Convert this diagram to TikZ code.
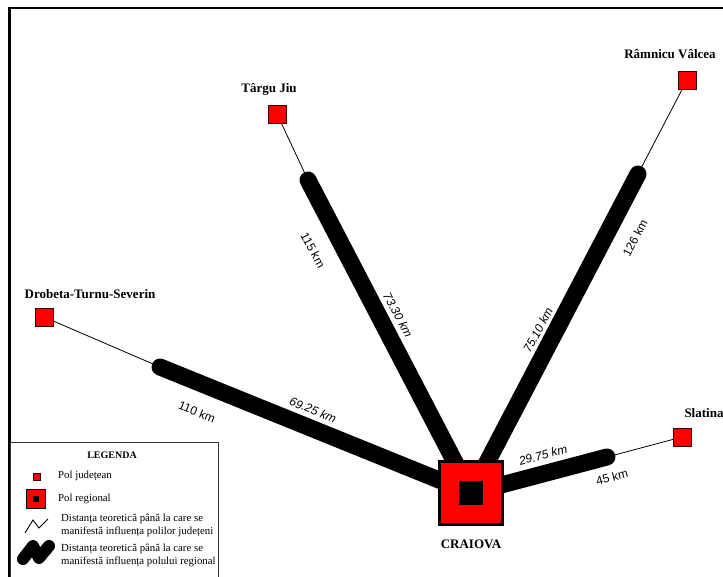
\documentclass[tikz,border=0pt]{standalone}
\usepackage{fontspec}
\setmainfont{Liberation Serif}
\setsansfont{Liberation Sans}
\usetikzlibrary{backgrounds}
\tikzset{
  jud/.style={draw=black!80!red, fill=red, minimum size=18pt, inner sep=0pt, line width=0.8pt},
  cityl/.style={font=\fontsize{13}{15}\selectfont\bfseries, inner sep=0pt},
  dist/.style={font=\sffamily\fontsize{12}{14}\selectfont, inner sep=0pt},
  disti/.style={font=\sffamily\itshape\fontsize{12}{14}\selectfont, inner sep=0pt},
  regline/.style={line width=17pt, line cap=round},
  judline/.style={line width=0.8pt},
  legt/.style={font=\fontsize{10.8}{13}\selectfont, inner sep=0pt, anchor=west, align=left},
}
\begin{document}
\begin{tikzpicture}[x=1pt,y=-1pt]
\useasboundingbox (0,0) rectangle (723,577);
% cities
\node[jud] (drob) at (44,317) {};
\node[cityl] (drobl) at (90,294) {Drobeta-Turnu-Severin};
\node[jud] (tj) at (277,114) {};
\node[cityl] (tjl) at (269,89) {Târgu Jiu};
\node[jud] (rv) at (687,80) {};
\node[cityl] (rvl) at (670,54) {Râmnicu Vâlcea};
\node[jud] (sl) at (682,437) {};
\node[cityl] (sll) at (704,413) {Slatina};
\node[draw, line width=3pt, fill=red, minimum size=63pt, inner sep=0pt] (crv) at (471,493) {};
\node[fill=black, minimum size=24pt, inner sep=0pt] (crvin) at (crv.center) {};
\node[cityl] (crvl) at (471,544) {CRAIOVA};
% connector end points
\coordinate (drobk) at (160,367);
\coordinate (tjk) at (308,180);
\coordinate (rvk) at (638,174);
\coordinate (slk) at (607,457);
\begin{pgfonlayer}{background}
  \fill[white] (0,0) rectangle (723,577);
  \draw[regline] (crv.center) -- (drobk);
  \draw[regline] (crv.center) -- (tjk);
  \draw[regline] (crv.center) -- (rvk);
  \draw[regline] (crv.center) -- (slk);
  \draw[judline] (drob.center) -- (drobk);
  \draw[judline] (tj.center) -- (tjk);
  \draw[judline] (rv.center) -- (rvk);
  \draw[judline] (sl.center) -- (slk);
\end{pgfonlayer}
% frame
\draw[line width=2.5pt] (9.5,577) -- (9.5,8) -- (723,8);
% distance labels
\node[dist, rotate=-22] (d110) at (197,412) {110 km};
\node[disti, rotate=-22] (d6925) at (313,410) {69.25 km};
\node[dist, rotate=-62] (d115) at (313,250) {115 km};
\node[disti, rotate=-62] (d7330) at (398,315) {73.30 km};
\node[dist, rotate=62] (d126) at (635,238) {126 km};
\node[disti, rotate=62] (d7510) at (538,330) {75.10 km};
\node[disti, rotate=15] (d2975) at (543,455) {29.75 km};
\node[dist, rotate=15] (d45) at (612,477) {45 km};
% legend
\draw[line width=0.8pt, black!80] (10,577) -- (10,442) -- (218,442) -- (218,577);
\node[font=\fontsize{10}{12}\selectfont\bfseries, inner sep=0pt] (legh) at (112,455) {LEGENDA};
\node[draw=black!80!red, fill=red, minimum size=7pt, inner sep=0pt, line width=0.5pt] (lj) at (37,477) {};
\node[legt] (ljt) at (58,476) {Pol județean};
\node[draw, fill=red, minimum size=19pt, inner sep=0pt, line width=1.5pt] (lr) at (36,499) {};
\node[fill=black, minimum size=6pt, inner sep=0pt] (lrin) at (lr.center) {};
\node[legt] (lrt) at (58,499) {Pol regional};
\draw[line width=0.9pt] (25,533) -- (33,520) -- (39,528) -- (48,519);
\node[legt] (lzt) at (61,525.5) {Distanța teoretică până la care se\\manifestă influența polilor județeni};
\draw[line width=12pt, line cap=round, line join=round] (23,559) -- (33,546) -- (39,558) -- (49,546);
\node[legt] (lbt) at (61,555) {Distanța teoretică până la care se\\manifestă influența polului regional};
\end{tikzpicture}
\end{document}
